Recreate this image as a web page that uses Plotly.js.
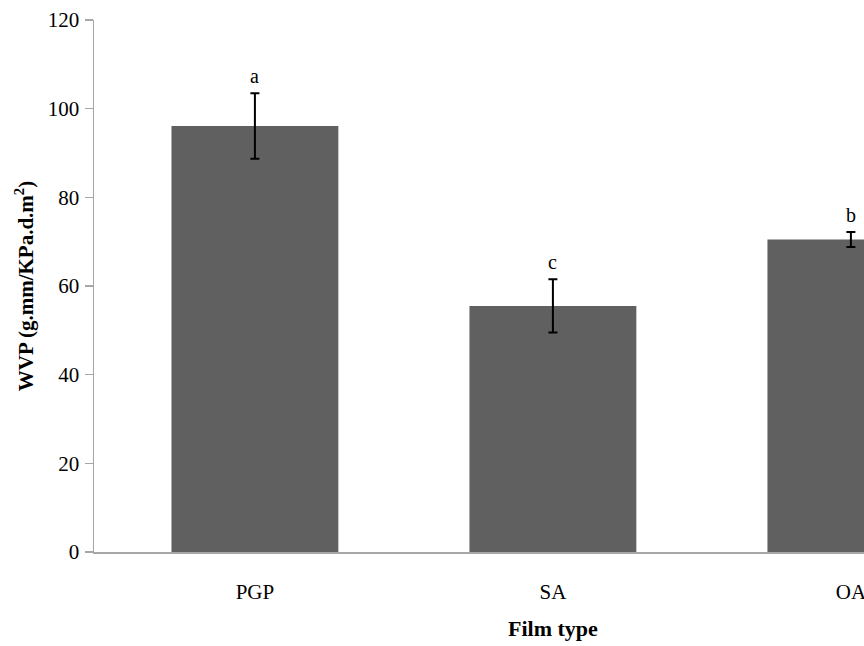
<!DOCTYPE html>
<html><head><meta charset="utf-8">
<script src="https://cdn.plot.ly/plotly-3.0.1.min.js"></script>
<style>html,body{margin:0;padding:0;background:#fff;}#chart{width:864px;height:646px;}</style>
</head><body><div id="chart"></div>
<script>
var categories = ["PGP", "SA", "OA"];
var wvp = [96.1, 55.5, 70.5];
var errors = [7.4, 6.0, 1.7];
var letters = ["a", "c", "b"];

var FONT = "Liberation Serif, Times New Roman, serif";

var trace = {
  type: "bar",
  x: categories,
  y: wvp,
  width: 0.56,
  marker: {color: "#606060", line: {width: 0}},
  error_y: {type: "data", array: errors, visible: true, color: "#000000", thickness: 2, width: 4.5}
};

var annotations = categories.map(function(c, i){
  return {x: c, y: wvp[i] + errors[i], xref: "x", yref: "y", text: letters[i], showarrow: false,
    yanchor: "bottom", yshift: 4, font: {family: FONT, size: 20, color: "#000"}};
});
annotations.push({x: "SA", y: 0, xref: "x", yref: "paper", text: "<b>Film type</b>", showarrow: false,
  yanchor: "middle", yshift: -76, font: {family: FONT, size: 22, color: "#000"}});

var layout = {
  width: 864, height: 646,
  margin: {l: 94, r: 0, t: 20, b: 94},
  paper_bgcolor: "#fff", plot_bgcolor: "#fff",
  showlegend: false,
  font: {family: FONT, size: 21, color: "#000"},
  xaxis: {
    type: "category", range: [-0.54, 2.044],
    showline: true, linecolor: "#a6a6a6", linewidth: 1.5,
    ticks: "", showgrid: false, zeroline: false,
    ticklabelstandoff: 20,
    tickfont: {size: 21}
  },
  yaxis: {
    range: [0, 120], dtick: 20, tick0: 0,
    showline: true, linecolor: "#a6a6a6", linewidth: 1.5,
    ticks: "outside", ticklen: 8, tickcolor: "#a6a6a6", tickwidth: 1.5,
    showgrid: false, zeroline: false,
    tickfont: {size: 21},
    ticklabelstandoff: 1,
    title: {text: "<b>WVP (g.mm/KPa.d.m<sup>2</sup>)</b>", font: {size: 21}, standoff: 8}
  },
  annotations: annotations
};

Plotly.newPlot("chart", [trace], layout, {displayModeBar: false, staticPlot: true});
</script></body></html>
